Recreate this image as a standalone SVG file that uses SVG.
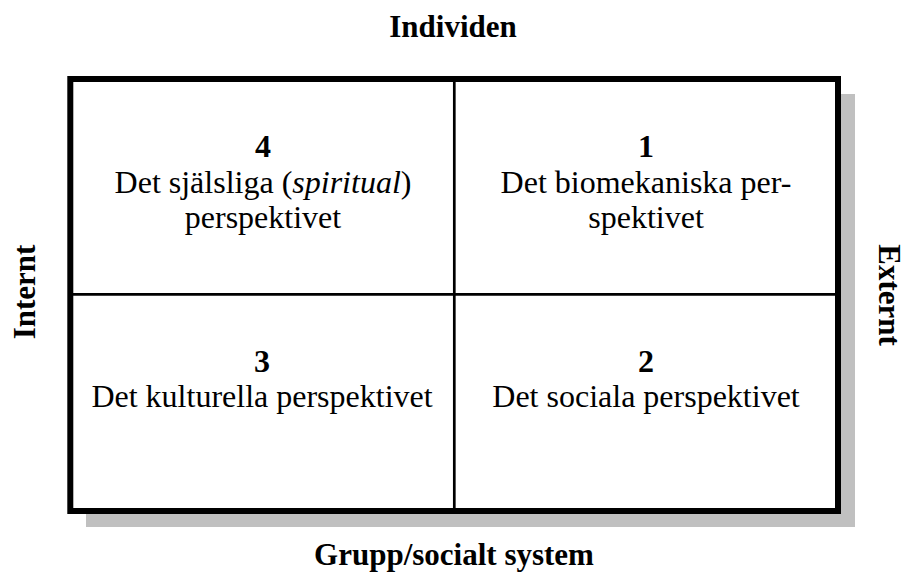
<svg xmlns="http://www.w3.org/2000/svg" width="907" height="581" viewBox="0 0 907 581">
<style>
text { font-family: 'Liberation Serif', Tinos, 'Times New Roman', Times, 'DejaVu Serif', serif; font-size: 32px; fill: #000; text-anchor: middle; }
.b { font-weight: bold; }
.ax { font-weight: bold; font-size: 31px; }
.frame { fill: #fff; stroke: #000; stroke-width: 6; }
.div { stroke: #000; stroke-width: 2.7; fill: none; }
</style>
<rect x="86" y="94" width="769" height="433" fill="#c0c0c0"/>
<rect class="frame" x="70.3" y="79" width="767.7" height="432"/>
<g id="connectors">
<line class="div" x1="454.3" y1="82" x2="454.3" y2="508"/>
<line class="div" x1="73" y1="294.3" x2="835" y2="294.3"/>
</g>
<g id="axis-top"><text class="ax" x="453" y="37">Individen</text></g>
<g id="axis-bottom"><text class="ax" x="454" y="565">Grupp/socialt system</text></g>
<g id="axis-left"><text class="ax" transform="translate(35,292) rotate(-90)">Internt</text></g>
<g id="axis-right"><text class="ax" transform="translate(879,295) rotate(90)">Externt</text></g>
<g id="cell4">
<text class="b" x="263" y="157">4</text>
<text x="263" y="193">Det själsliga (<tspan font-style="italic">spiritual</tspan>)</text>
<text x="263" y="228">perspektivet</text>
</g>
<g id="cell1">
<text class="b" x="646" y="157">1</text>
<text x="646" y="193">Det biomekaniska per-</text>
<text x="646" y="228">spektivet</text>
</g>
<g id="cell3">
<text class="b" x="262" y="372">3</text>
<text x="262" y="407">Det kulturella perspektivet</text>
</g>
<g id="cell2">
<text class="b" x="646" y="372">2</text>
<text x="646" y="407">Det sociala perspektivet</text>
</g>
</svg>
